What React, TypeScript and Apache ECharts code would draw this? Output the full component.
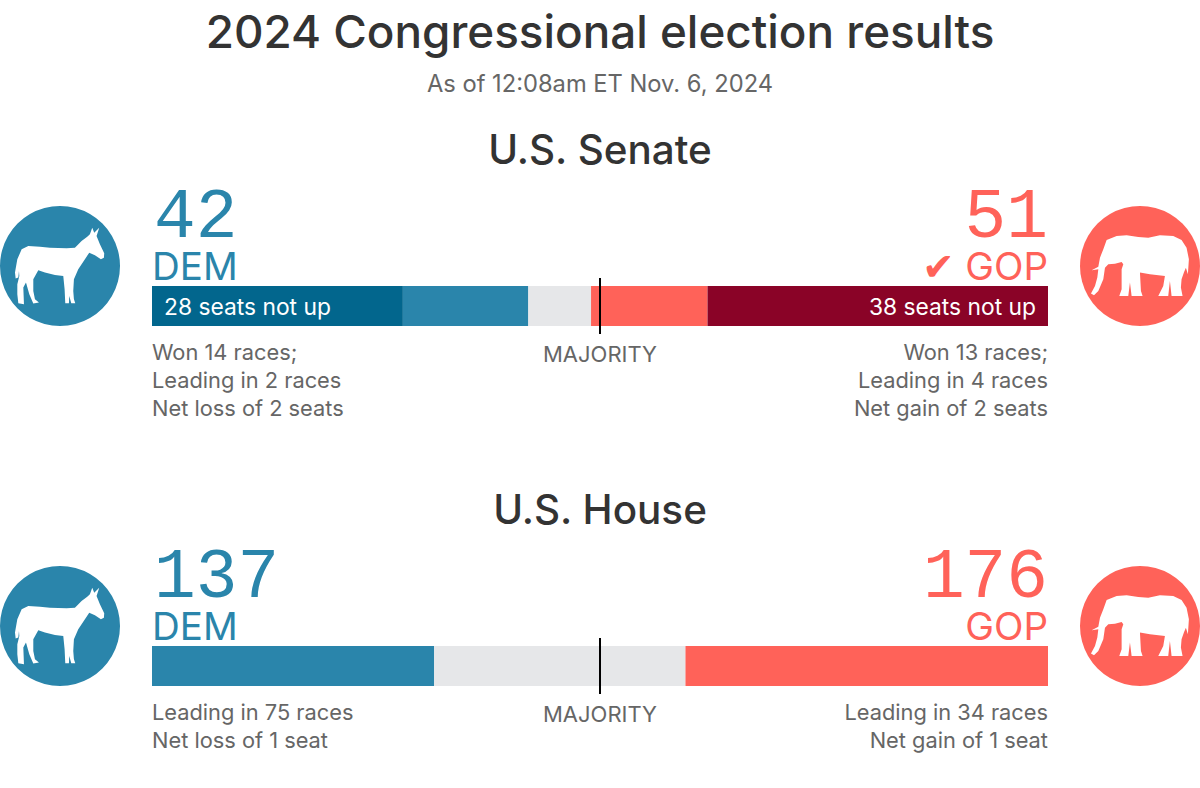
import React, { useEffect, useRef } from "react";
import * as echarts from "echarts";

const SANS = "Inter, 'Noto Sans', sans-serif";
const MONO = "'Liberation Mono', monospace";
const CHECK = "Inter, 'DejaVu Sans', sans-serif";

const BLUE = "#2a85ab";
const DARK_BLUE = "#02668d";
const RED = "#ff6259";
const MAROON = "#8a0327";
const GRAY = "#e6e7e9";
const INK = "#333333";
const MUTED = "#666666";

const titleText = "2024 Congressional election results";
const subtitleText = "As of 12:08am ET Nov. 6, 2024";

const senateTitle = "U.S. Senate";
const senateNames = ["28 seats not up", "Dem won", "Undecided", "GOP won", "38 seats not up"];
const senateValues = [28, 14, 7, 13, 38];
const senateColors = [DARK_BLUE, BLUE, GRAY, RED, MAROON];
const senateDemCount = "42";
const senateGopCount = "51";
const senateDemNotes = ["Won 14 races;", "Leading in 2 races", "Net loss of 2 seats"];
const senateGopNotes = ["Won 13 races;", "Leading in 4 races", "Net gain of 2 seats"];

const houseTitle = "U.S. House";
const houseNames = ["Dem", "Undecided", "GOP"];
const houseValues = [137, 122, 176];
const houseColors = [BLUE, GRAY, RED];
const houseDemCount = "137";
const houseGopCount = "176";
const houseDemNotes = ["Leading in 75 races", "Net loss of 1 seat"];
const houseGopNotes = ["Leading in 34 races", "Net gain of 1 seat"];

const donkeyPath =
  "M277 35 L283 50 L298 35 L290 60 L300 85 L313 112 L312 125 L303 130 L285 118 L268 110 L255 130 L235 160 L222 190 L220 225 L222 250 L226 262 L214 262 L208 240 L207 262 L196 262 L194 220 L190 180 L165 177 L135 170 L115 163 L100 190 L100 225 L105 250 L117 260 L100 263 L88 235 L78 200 L70 215 L72 265 L55 262 L52 235 L52 205 L58 180 L57 165 L55 185 L47 188 L45 170 L52 130 L65 100 L85 90 L120 92 L150 95 L200 97 L225 95 L245 75 L262 62 L270 55 Z";
const elephantPath =
  "M80 42 L110 30 L140 28 L175 33 L205 35 L240 28 L280 30 L305 42 L320 65 L327 100 L324 145 L318 125 L312 140 L305 160 L303 185 L308 210 L275 210 L270 165 L265 210 L235 210 L250 180 L255 150 L210 145 L180 140 L183 195 L188 210 L155 210 L150 170 L145 210 L118 210 L125 190 L125 130 L130 115 L125 108 L105 113 L85 115 L75 125 L70 160 L55 195 L42 208 L33 203 L45 180 L52 155 L55 130 L35 133 L55 122 L60 95 L70 70 Z";

echarts.graphic.registerShape("donkey", echarts.graphic.extendPath(donkeyPath, {}));
echarts.graphic.registerShape("elephant", echarts.graphic.extendPath(elephantPath, {}));

function label(text: string, x: number, y: number, size: number, fill: string, align = "left", family = SANS, weight: any = 400) {
  return {
    type: "text",
    style: { text, x, y, fill, textAlign: align, textVerticalAlign: "middle", font: `${weight} ${size}px ${family}` },
    z: 10,
  };
}

function barSeries(
  names: string[],
  values: number[],
  colors: string[],
  idx: number,
  stack: string,
  withLabels: boolean
) {
  return names.map((name, i) => {
    const isEnd = withLabels && (i === 0 || i === names.length - 1);
    const s: any = {
      type: "bar",
      name,
      stack,
      xAxisIndex: idx,
      yAxisIndex: idx,
      barWidth: 40,
      data: [values[i]],
      itemStyle: { color: colors[i] },
      label: isEnd
        ? {
            show: true,
            formatter: name,
            position: i === 0 ? "insideLeft" : "insideRight",
            distance: 12,
            color: "#ffffff",
            fontFamily: SANS,
            fontSize: 22.8,
          }
        : { show: false },
    };
    if (i === names.length - 1) {
      s.markLine = {
        silent: true,
        symbol: "none",
        animation: false,
        label: { show: false },
        lineStyle: { color: "#000000", width: 2, type: "solid" },
        data: [{ xAxis: values.reduce((a, b) => a + b, 0) / 2 }],
      };
    }
    return s;
  });
}

function block(top: number, title: string, demCount: string, gopCount: string, gopLabel: string, demNotes: string[], gopNotes: string[]) {
  const els: any[] = [
    label(title, 600, top + 149, 40.4, INK, "center", SANS, 500),
    { type: "circle", shape: { cx: 60, cy: top + 266, r: 60 }, style: { fill: BLUE } },
    { type: "circle", shape: { cx: 1140, cy: top + 266, r: 60 }, style: { fill: RED } },
    { type: "donkey", x: 0, y: top + 216, scaleX: 1 / 3, scaleY: 1 / 3, style: { fill: "#ffffff" } },
    { type: "elephant", x: 1080, y: top + 226, scaleX: 1 / 3, scaleY: 1 / 3, style: { fill: "#ffffff" } },
    label(demCount, 154, top + 218, 69.5, BLUE, "left", MONO),
    label(gopCount, 1048, top + 218, 69.5, RED, "right", MONO),
    label("DEM", 152, top + 266, 38.5, BLUE),
    label(gopLabel, 1048, top + 266, 38.5, RED, "right", CHECK),
    label("MAJORITY", 600, top + 354, 22, MUTED, "center"),
  ];
  demNotes.forEach((t, i) => els.push(label(t, 152, top + 352 + i * 28, 21.8, MUTED)));
  gopNotes.forEach((t, i) => els.push(label(t, 1048, top + 352 + i * 28, 21.8, MUTED, "right")));
  return els;
}

export default function App() {
  const ref = useRef<HTMLDivElement>(null);
  useEffect(() => {
    document.body.style.margin = "0";
    const chart = echarts.init(ref.current!, undefined, { renderer: "svg" });
    chart.setOption({
      animation: false,
      backgroundColor: "#ffffff",
      grid: [
        { left: 152, width: 896, top: 278, height: 56 },
        { left: 152, width: 896, top: 638, height: 56 },
      ],
      xAxis: [
        { type: "value", gridIndex: 0, min: 0, max: 100, show: false },
        { type: "value", gridIndex: 1, min: 0, max: 435, show: false },
      ],
      yAxis: [
        { type: "category", gridIndex: 0, data: ["Senate"], show: false },
        { type: "category", gridIndex: 1, data: ["House"], show: false },
      ],
      series: [
        ...barSeries(senateNames, senateValues, senateColors, 0, "senate", true),
        ...barSeries(houseNames, houseValues, houseColors, 1, "house", false),
      ],
      graphic: [
        label(titleText, 600, 31, 45.8, INK, "center", SANS, 500),
        label(subtitleText, 600, 83, 23.7, MUTED, "center"),
        ...block(0, senateTitle, senateDemCount, senateGopCount, "✔ GOP", senateDemNotes, senateGopNotes),
        ...block(360, houseTitle, houseDemCount, houseGopCount, "GOP", houseDemNotes, houseGopNotes),
      ],
    });
    return () => chart.dispose();
  }, []);
  return <div ref={ref} style={{ position: "absolute", left: 0, top: 0, width: 1200, height: 788 }} />;
}
